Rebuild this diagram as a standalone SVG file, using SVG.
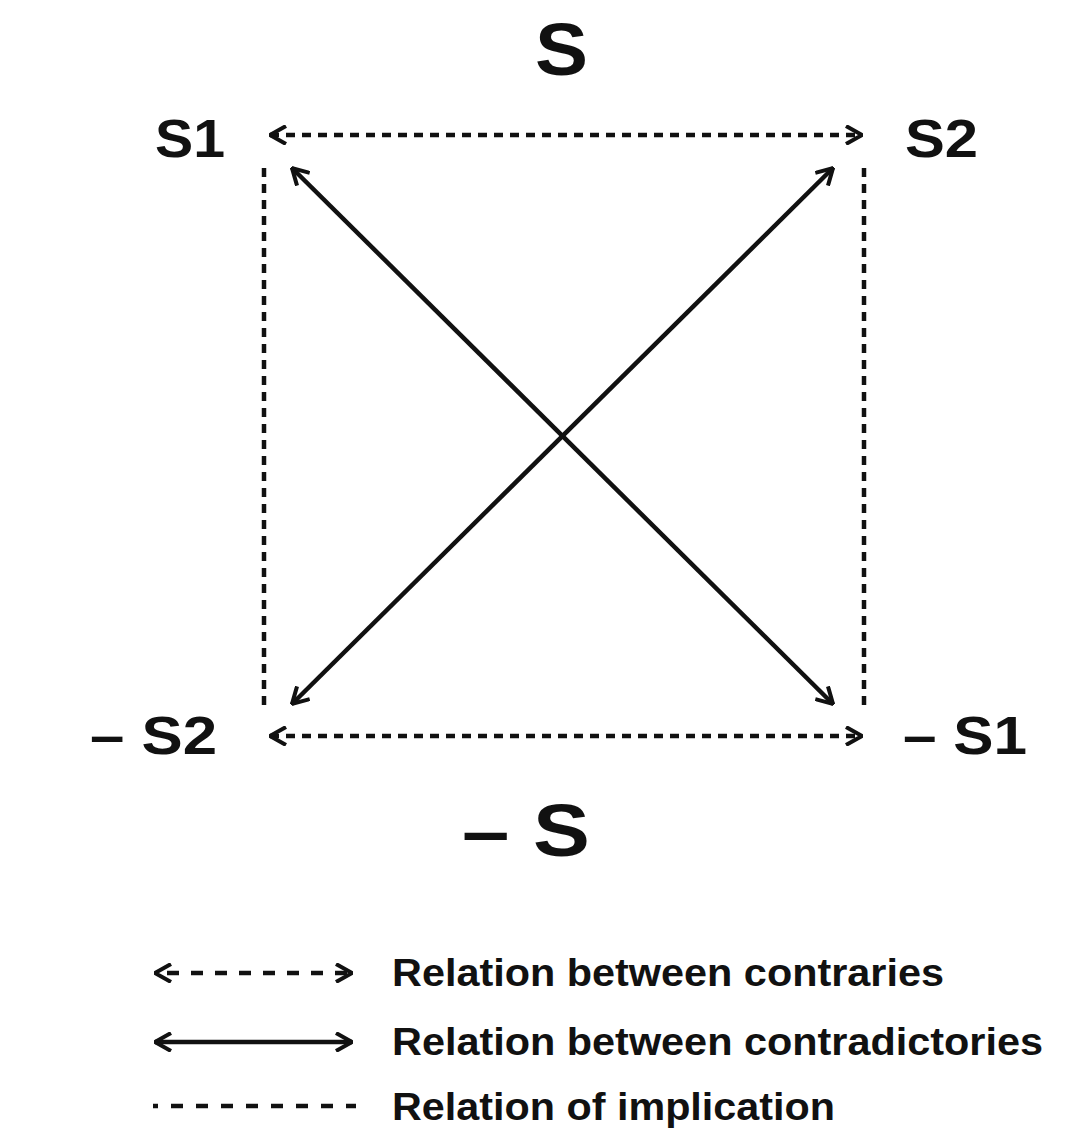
<svg xmlns="http://www.w3.org/2000/svg" width="1083" height="1135" viewBox="0 0 1083 1135">
<defs>
<marker id="ah" viewBox="0 0 20 20" refX="19" refY="10" markerWidth="20" markerHeight="20" markerUnits="userSpaceOnUse" orient="auto-start-reverse">
<path d="M3,1 L19,10 L3,19" fill="none" stroke="#111" stroke-width="4"/>
</marker>
<style>
.t{font-family:"Liberation Sans",Arial,sans-serif;font-weight:bold;fill:#111}
.c{stroke:#111;stroke-width:4.5;fill:none}
.d{stroke-dasharray:9 7}
.i{stroke-dasharray:9 7}
</style>
</defs>
<rect width="1083" height="1135" fill="#fff"/>
<g id="connectors">
<line class="c d" x1="270" y1="135" x2="862" y2="135" marker-start="url(#ah)" marker-end="url(#ah)"/>
<line class="c d" x1="270" y1="736" x2="862" y2="736" marker-start="url(#ah)" marker-end="url(#ah)"/>
<line class="c i" x1="264" y1="168" x2="264" y2="706"/>
<line class="c i" x1="864" y1="168" x2="864" y2="706"/>
<line class="c" x1="292" y1="168" x2="833" y2="704" marker-start="url(#ah)" marker-end="url(#ah)"/>
<line class="c" x1="833" y1="168" x2="292" y2="704" marker-start="url(#ah)" marker-end="url(#ah)"/>
</g>
<g id="S"><text class="t" x="535" y="75" font-size="74" textLength="53" lengthAdjust="spacingAndGlyphs">S</text></g>
<g id="S1"><text class="t" x="155" y="157" font-size="54" textLength="70" lengthAdjust="spacingAndGlyphs">S1</text></g>
<g id="S2"><text class="t" x="905" y="157" font-size="54" textLength="73" lengthAdjust="spacingAndGlyphs">S2</text></g>
<g id="notS2"><text class="t" x="90" y="754" font-size="54" textLength="127" lengthAdjust="spacingAndGlyphs">– S2</text></g>
<g id="notS1"><text class="t" x="903" y="754" font-size="54" textLength="124" lengthAdjust="spacingAndGlyphs">– S1</text></g>
<g id="notS"><text class="t" x="462" y="856" font-size="74" textLength="128" lengthAdjust="spacingAndGlyphs">– S</text></g>
<g id="legend">
<line class="c" x1="155" y1="973" x2="352" y2="973" stroke-dasharray="12 12" stroke-dashoffset="-12" marker-start="url(#ah)" marker-end="url(#ah)"/>
<line class="c" x1="155" y1="1042" x2="352" y2="1042" marker-start="url(#ah)" marker-end="url(#ah)"/>
<line class="c" x1="153" y1="1106" x2="356" y2="1106" stroke-dasharray="5 13 12 13 12 13 12 13 12 13 12 13 12 13 12 13 12 13 5"/>
<text class="t" x="392" y="986" font-size="38" textLength="552" lengthAdjust="spacingAndGlyphs">Relation between contraries</text>
<text class="t" x="392" y="1055" font-size="38" textLength="651" lengthAdjust="spacingAndGlyphs">Relation between contradictories</text>
<text class="t" x="392" y="1120" font-size="38" textLength="443" lengthAdjust="spacingAndGlyphs">Relation of implication</text>
</g>
</svg>
